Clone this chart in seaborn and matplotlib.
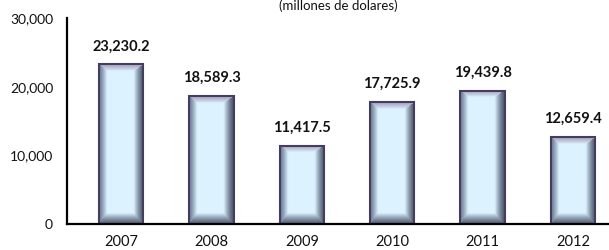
"""
复刻柱状图: 2007-2012 年度数值（百万美元）
斜面渐变柱子用 imshow 贴图并裁剪到 seaborn 画出的柱子里
"""
import numpy as np
import pandas as pd
import matplotlib
matplotlib.use("Agg")
import matplotlib.pyplot as plt
from matplotlib.colors import to_rgb
import seaborn as sns

# ── 数据 ──
years = ["2007", "2008", "2009", "2010", "2011", "2012"]
values = [23230.2, 18589.3, 11417.5, 17725.9, 19439.8, 12659.4]
y_ticks = [0, 10000, 20000, 30000]
subtitle = "(millones de dolares)"

sns.set_theme(style="white")
plt.rcParams["font.family"] = ["Lato", "DejaVu Sans"]

df = pd.DataFrame({"year": years, "value": values})

fig = plt.figure(figsize=(6.09, 2.5), dpi=100)
ax = fig.add_axes([67 / 609, 26 / 250, 1 - 67 / 609, 206 / 250])

sns.barplot(data=df, x="year", y="value", ax=ax, width=0.49,
            color="#dcf2ff", edgecolor="#463d5e", linewidth=1.5)

ax.set_xlim(-0.6, 5.4)
ax.set_ylim(0, 30000)
ax.set_yticks(y_ticks)
ax.set_yticklabels([f"{t:,}" for t in y_ticks], fontsize=10, color="#111111")
ax.tick_params(axis="both", length=0, pad=10)
ax.tick_params(axis="x", labelsize=10.5, pad=8, colors="#111111")
ax.set_xlabel("")
ax.set_ylabel("")

# 轴线：只保留左和下
for side in ["top", "right"]:
    ax.spines[side].set_visible(False)
for side in ["left", "bottom"]:
    ax.spines[side].set_color("black")
    ax.spines[side].set_linewidth(1.6)
ax.spines["bottom"].set_zorder(5)


def bevel_image(w_px, h_px):
    """生成斜面柱子贴图（行 0 为顶部）"""
    w, h = max(int(w_px), 2), max(int(h_px), 2)
    xx, yy = np.meshgrid(np.arange(w) + 0.5, np.arange(h) + 0.5)
    # 左、右、上、下 斜面宽度（像素）
    d = np.stack([xx / 8.0, (w - xx) / 10.0, yy / 7.0, (h - yy) / 11.0])
    region = np.argmin(d, axis=0)
    t = np.clip(np.min(d, axis=0), 0, 1)

    inner = np.array(to_rgb("#dcf3ff"))
    edges = [np.array(to_rgb(c)) for c in ["#6d7e98", "#4a566c", "#a8a4c0", "#566278"]]
    img = np.zeros((h, w, 3))
    for k, c in enumerate(edges):
        m = region == k
        tt = t[m][:, None] ** 1.4
        img[m] = c * (1 - tt) + inner * tt
    return img


# 斜面效果贴图
for bar in ax.patches:
    x0, y0 = bar.get_x(), bar.get_y()
    x1, y1 = x0 + bar.get_width(), y0 + bar.get_height()
    (px0, py0), (px1, py1) = ax.transData.transform([(x0, y0), (x1, y1)])
    img = bevel_image(px1 - px0, py1 - py0)
    im = ax.imshow(img, extent=[x0, x1, y0, y1], aspect="auto",
                   interpolation="bilinear", zorder=2)
    im.set_clip_path(bar)
    bar.set_facecolor("none")
    bar.set_zorder(3)

ax.set_xlim(-0.6, 5.4)
ax.set_ylim(0, 30000)

# 数值标签
ax.bar_label(ax.containers[0], labels=[f"{v:,.1f}" for v in values],
             padding=8, fontsize=10.5, fontweight="bold", color="#111111")

# 标题（参考图中顶部被裁掉，这里稍下移保证完整）
fig.text(338 / 609, 1 - 6 / 250, subtitle, ha="center", va="center",
         fontsize=9.5, color="#111111")

fig.savefig("out.png", dpi=100)
plt.close(fig)
